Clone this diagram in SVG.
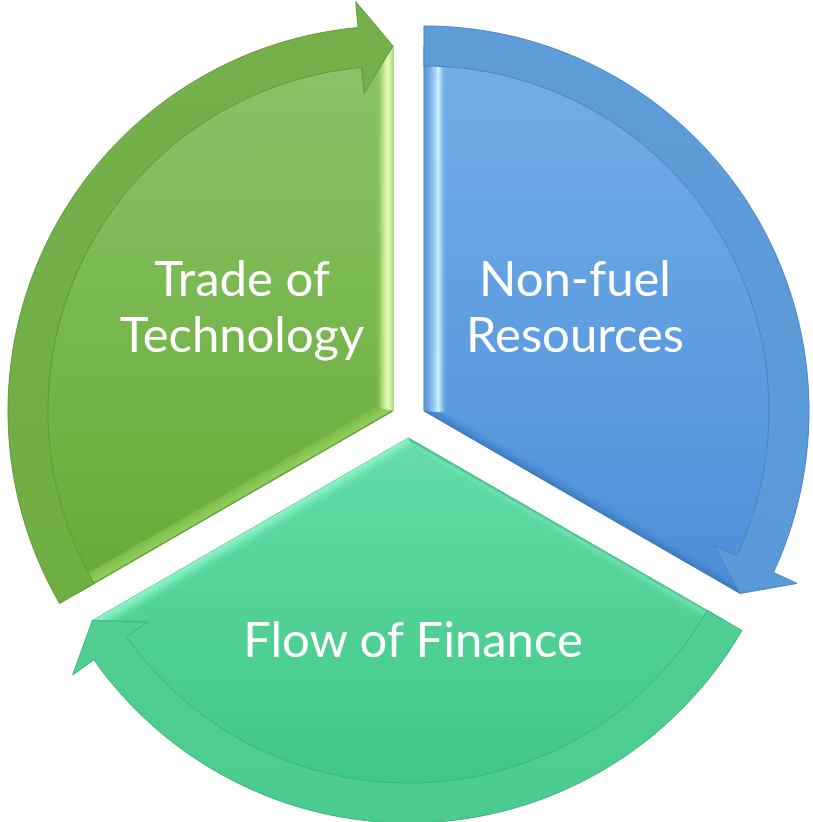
<svg xmlns="http://www.w3.org/2000/svg" width="813" height="822" viewBox="0 0 813 822">
  <defs>
    <style>
      .lbl { font-family: Lato, "Liberation Sans", Arial, sans-serif; font-size: 49px; fill: #ffffff; text-anchor: middle; }
      .wedgeG { fill: url(#gWedge); stroke: #5f9c36; stroke-width: 1; }
      .wedgeB { fill: url(#bWedge); stroke: #4a82c2; stroke-width: 1; }
      .wedgeF { fill: url(#fWedge); stroke: #3cb47c; stroke-width: 1; }
      .bandG { fill: url(#gBand); stroke: #5e9a36; stroke-width: 1; }
      .bandB { fill: url(#bBand); stroke: #4a84c4; stroke-width: 1; }
      .bandF { fill: url(#fBand); stroke: #3cb37c; stroke-width: 1; }
    </style>
    <linearGradient id="gWedge" gradientUnits="userSpaceOnUse" x1="0" y1="46" x2="0" y2="600">
      <stop offset="0" stop-color="#8ac467"/>
      <stop offset="1" stop-color="#67aa37"/>
    </linearGradient>
    <linearGradient id="bWedge" gradientUnits="userSpaceOnUse" x1="0" y1="46" x2="0" y2="600">
      <stop offset="0" stop-color="#75aee8"/>
      <stop offset="1" stop-color="#4990d8"/>
    </linearGradient>
    <linearGradient id="fWedge" gradientUnits="userSpaceOnUse" x1="0" y1="438" x2="0" y2="803">
      <stop offset="0" stop-color="#64dca8"/>
      <stop offset="1" stop-color="#3ec584"/>
    </linearGradient>
    <linearGradient id="gBand" gradientUnits="userSpaceOnUse" x1="0" y1="0" x2="0" y2="610">
      <stop offset="0" stop-color="#76b14c"/>
      <stop offset="1" stop-color="#6fae43"/>
    </linearGradient>
    <linearGradient id="bBand" gradientUnits="userSpaceOnUse" x1="0" y1="26" x2="0" y2="600">
      <stop offset="0" stop-color="#5f9dd8"/>
      <stop offset="1" stop-color="#5999d8"/>
    </linearGradient>
    <linearGradient id="fBand" gradientUnits="userSpaceOnUse" x1="0" y1="610" x2="0" y2="823">
      <stop offset="0" stop-color="#52cf93"/>
      <stop offset="1" stop-color="#4ccb8e"/>
    </linearGradient>
    <!-- bevel strips -->
    <linearGradient id="gEdgeV" gradientUnits="userSpaceOnUse" x1="375" y1="0" x2="393" y2="0">
      <stop offset="0" stop-color="#7cba52" stop-opacity="0"/>
      <stop offset="0.4" stop-color="#b2dc7a"/>
      <stop offset="0.7" stop-color="#e6fcbc"/>
      <stop offset="1" stop-color="#b6de84"/>
    </linearGradient>
    <linearGradient id="gEdgeL" gradientUnits="userSpaceOnUse" x1="235" y1="502.2" x2="229" y2="491.8">
      <stop offset="0" stop-color="#5e9c33"/>
      <stop offset="0.15" stop-color="#90cf5c"/>
      <stop offset="1" stop-color="#7cba4a"/>
    </linearGradient>
    <linearGradient id="bEdgeV" gradientUnits="userSpaceOnUse" x1="424" y1="0" x2="447" y2="0">
      <stop offset="0" stop-color="#5a8fd0"/>
      <stop offset="0.2" stop-color="#6fa6e2"/>
      <stop offset="0.5" stop-color="#a2d6f6"/>
      <stop offset="0.62" stop-color="#ccf6ff"/>
      <stop offset="0.78" stop-color="#8cc2ee"/>
      <stop offset="1" stop-color="#70aae6" stop-opacity="0"/>
    </linearGradient>
    <linearGradient id="bEdgeL" gradientUnits="userSpaceOnUse" x1="582" y1="502.2" x2="587" y2="493.5">
      <stop offset="0" stop-color="#3c78bc"/>
      <stop offset="1" stop-color="#4d90d8" stop-opacity="0.3"/>
    </linearGradient>
    <linearGradient id="fEdgeL" gradientUnits="userSpaceOnUse" x1="250.5" y1="529.2" x2="257.5" y2="541.3">
      <stop offset="0" stop-color="#8ef4c8"/>
      <stop offset="0.4" stop-color="#78e8b8"/>
      <stop offset="1" stop-color="#60d9a3" stop-opacity="0.2"/>
    </linearGradient>
    <linearGradient id="fEdgeR" gradientUnits="userSpaceOnUse" x1="566.5" y1="529.2" x2="561.5" y2="537.9">
      <stop offset="0" stop-color="#46c28a"/>
      <stop offset="0.3" stop-color="#70e2b0"/>
      <stop offset="1" stop-color="#5ad6a0" stop-opacity="0.2"/>
    </linearGradient>
  </defs>

  <!-- Node: Trade of Technology -->
  <g id="node-technology">
    <path class="wedgeG" d="M393,411 L76.9,593.5 A365,365 0 0 1 393,46 Z"/>
    <polygon fill="url(#gEdgeV)" points="393,411 393,46 375,46.4 375,407.5"/>
    <polygon fill="url(#gEdgeL)" points="393,411 375,407.5 70.9,583.1 76.9,593.5"/>
    <text class="lbl" x="242" y="296">Trade of</text>
    <text class="lbl" x="242" y="352">Technology</text>
  </g>

  <!-- Node: Non-fuel Resources -->
  <g id="node-resources">
    <path class="wedgeB" d="M424,411 L424,46 A365,365 0 0 1 740.1,593.5 Z"/>
    <polygon fill="url(#bEdgeV)" points="424,411 424,46 447,46.7 447,412.7"/>
    <polygon fill="url(#bEdgeL)" points="424,411 447,412.7 745.1,584.8 740.1,593.5"/>
    <text class="lbl" x="575" y="296">Non-fuel</text>
    <text class="lbl" x="575" y="352">Resources</text>
  </g>

  <!-- Node: Flow of Finance -->
  <g id="node-finance">
    <path class="wedgeF" d="M408.5,438 L724.6,620.5 A365,365 0 0 1 92.4,620.5 Z"/>
    <polygon fill="url(#fEdgeL)" points="408.5,438 412.5,451.9 99.4,632.6 92.4,620.5"/>
    <polygon fill="url(#fEdgeR)" points="408.5,438 724.6,620.5 719.6,629.2 412.5,451.9"/>
    <text class="lbl" x="413" y="657">Flow of Finance</text>
  </g>

  <!-- Connectors: curved cycle arrows -->
  <g id="connectors">
    <path class="bandG" d="M59.6,603.5 A385,385 0 0 1 358.1,27.6 L355.8,1.7 L393,46 L364.1,93.3 L361.7,67.4 A345,345 0 0 0 94.2,583.5 Z"/>
    <path class="bandB" d="M424,26 A385,385 0 0 1 773.5,572.5 L797.1,583.4 L740.1,593.5 L713.6,544.8 L737.2,555.7 A345,345 0 0 0 424,66 Z"/>
    <path class="bandF" d="M741.9,630.5 A385,385 0 0 1 93.9,659.9 L72.7,674.9 L92.4,620.5 L147.8,621.9 L126.6,636.9 A345,345 0 0 0 707.3,610.5 Z"/>
  </g>
</svg>
